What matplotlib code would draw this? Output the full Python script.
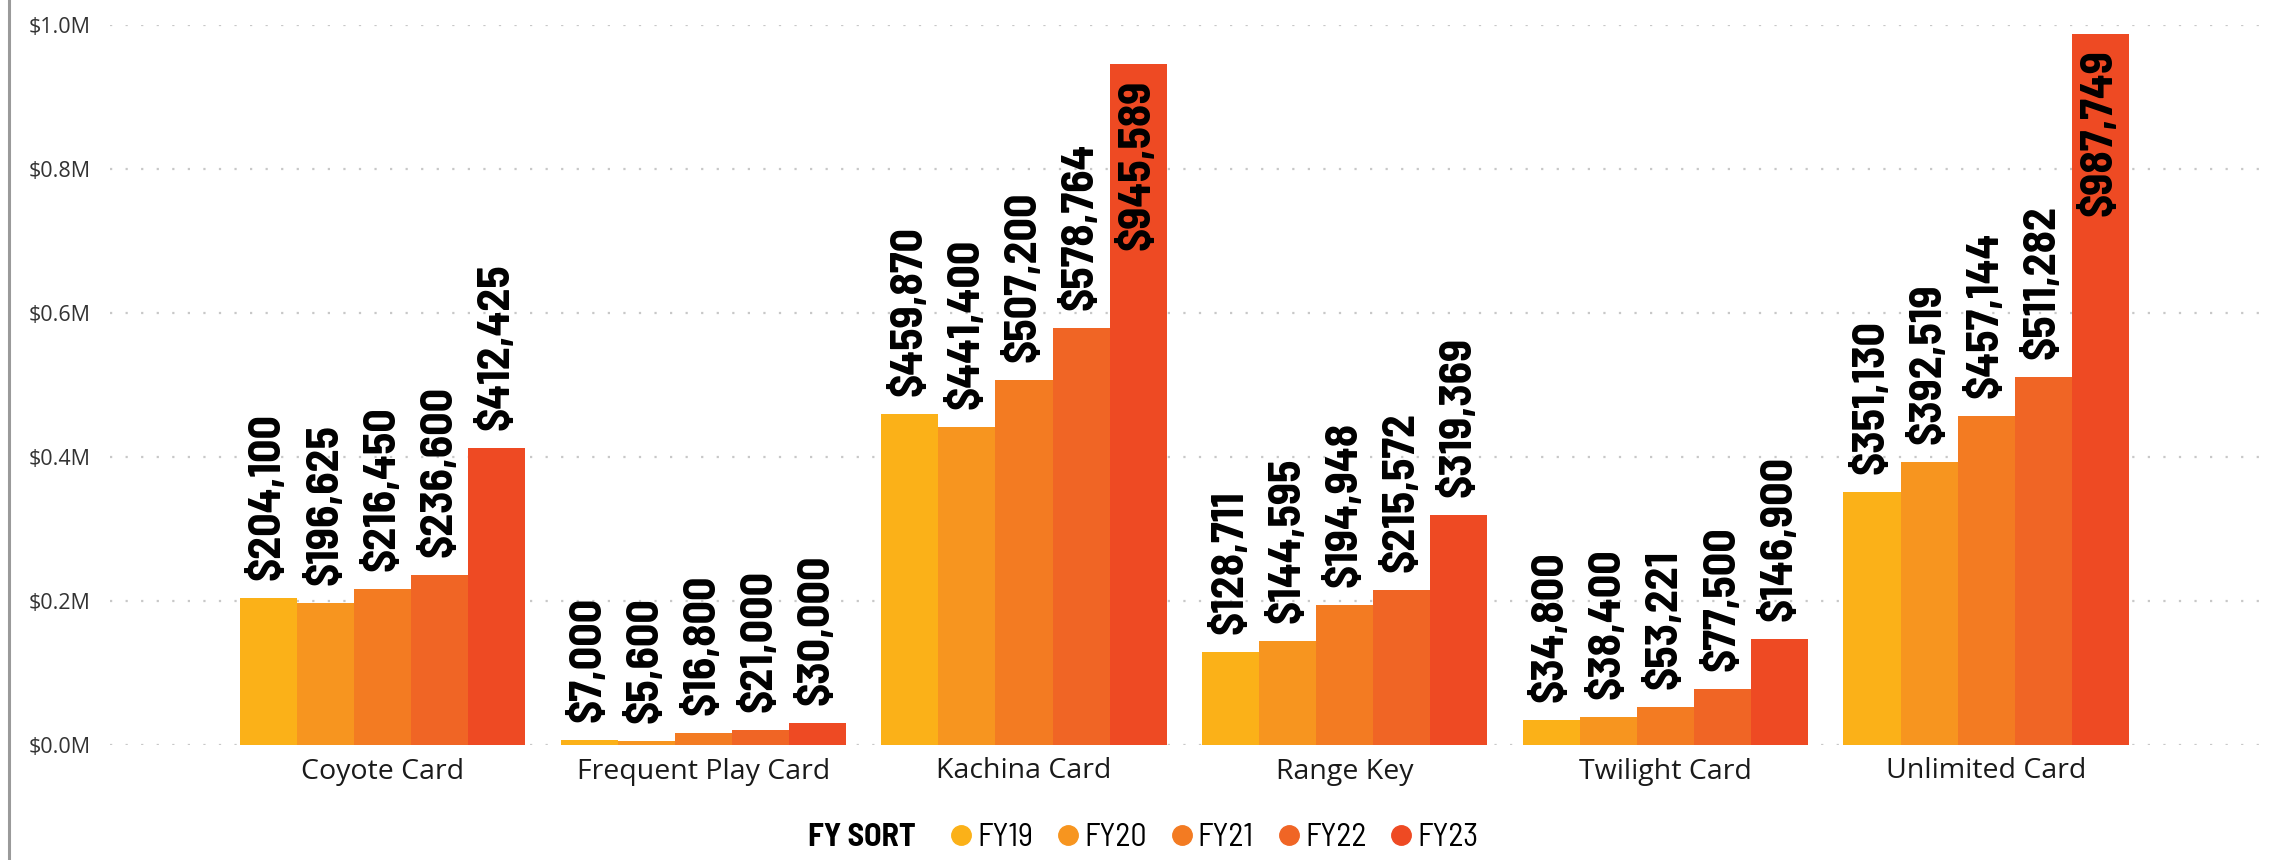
import matplotlib
matplotlib.use("Agg")
import matplotlib.pyplot as plt
from matplotlib import font_manager
from matplotlib.lines import Line2D
from matplotlib.ticker import FuncFormatter
import numpy as np

categories = ["Coyote Card", "Frequent Play Card", "Kachina Card",
              "Range Key", "Twilight Card", "Unlimited Card"]
years = ["FY19", "FY20", "FY21", "FY22", "FY23"]
fy19 = [204100, 7000, 459870, 128711, 34800, 351130]
fy20 = [196625, 5600, 441400, 144595, 38400, 392519]
fy21 = [216450, 16800, 507200, 194948, 53221, 457144]
fy22 = [236600, 21000, 578764, 215572, 77500, 511282]
fy23 = [412425, 30000, 945589, 319369, 146900, 987749]
colors = ["#FBB118", "#F7951F", "#F37B22", "#F06525", "#EE4A23"]

# DIN-like narrow face for data labels and legend, if the machine has one
names = {f.name for f in font_manager.fontManager.ttflist}
if "Barlow Semi Condensed" in names:
    cond = dict(family="Barlow Semi Condensed")
    label_size, leg_size = 33, 23
else:
    cond = dict(family="DejaVu Sans", stretch="condensed")
    label_size, leg_size = 26, 20

fig = plt.figure(figsize=(22.74, 8.6), dpi=100)
ax = fig.add_axes((110 / 2274, 1 - 745 / 860, (2262 - 110) / 2274, 720 / 860))

x = np.arange(len(categories))
width = 0.178
series = [fy19, fy20, fy21, fy22, fy23]
ymax = 1.0e6

for i, (vals, col) in enumerate(zip(series, colors)):
    xs = x + (i - 2) * width
    ax.bar(xs, vals, width, color=col, zorder=2)
    for xv, v in zip(xs, vals):
        txt = f"${v:,.0f}"
        if v > 0.9 * ymax:
            ax.annotate(txt, (xv, v), xytext=(0, -11), textcoords="offset points",
                        rotation=90, ha="center", va="top", fontsize=label_size,
                        fontweight="bold", color="black", **cond)
        else:
            ax.annotate(txt, (xv, v), xytext=(0, 13), textcoords="offset points",
                        rotation=90, ha="center", va="bottom", fontsize=label_size,
                        fontweight="bold", color="black", **cond)

ax.set_xlim(-0.85, 5.86)
ax.set_ylim(0, ymax)
ax.set_yticks(np.arange(0, 1.01e6, 0.2e6))
ax.yaxis.set_major_formatter(FuncFormatter(lambda v, p: f"${v / 1e6:.1f}M"))
ax.set_xticks(x)
ax.set_xticklabels(categories, fontsize=20.5, color="#1A1A1A", family="Open Sans")
for t in ax.get_yticklabels():
    t.set_family("Open Sans")
ax.tick_params(axis="y", length=0, pad=14, labelsize=15.5, labelcolor="#333333")
ax.tick_params(axis="x", length=0, pad=9)
for s in ax.spines.values():
    s.set_visible(False)
ax.grid(axis="y", color="#C8C8C8", linestyle=(0, (1, 6)), linewidth=1.6, zorder=0)
ax.set_axisbelow(True)

# left frame line of the visual
fig.add_artist(Line2D([9 / 2274, 9 / 2274], [0, 1], color="#9A9A9A", linewidth=2.2,
                      transform=fig.transFigure))

# legend
fig.text(808 / 2274, 1 - 838 / 860, "FY SORT", fontsize=leg_size, fontweight="bold",
         va="center", ha="left", color="#000000", **cond)
handles = [Line2D([], [], marker="o", linestyle="", markersize=14, color=c) for c in colors]
leg = fig.legend(handles, years, loc="center left", bbox_to_anchor=(945 / 2274, 1 - 838 / 860),
                 ncol=5, frameon=False, handletextpad=0.0, columnspacing=0.6,
                 handlelength=1.0, borderaxespad=0, borderpad=0,
                 prop=font_manager.FontProperties(size=leg_size, **cond))

fig.savefig("out.png", dpi=100)
